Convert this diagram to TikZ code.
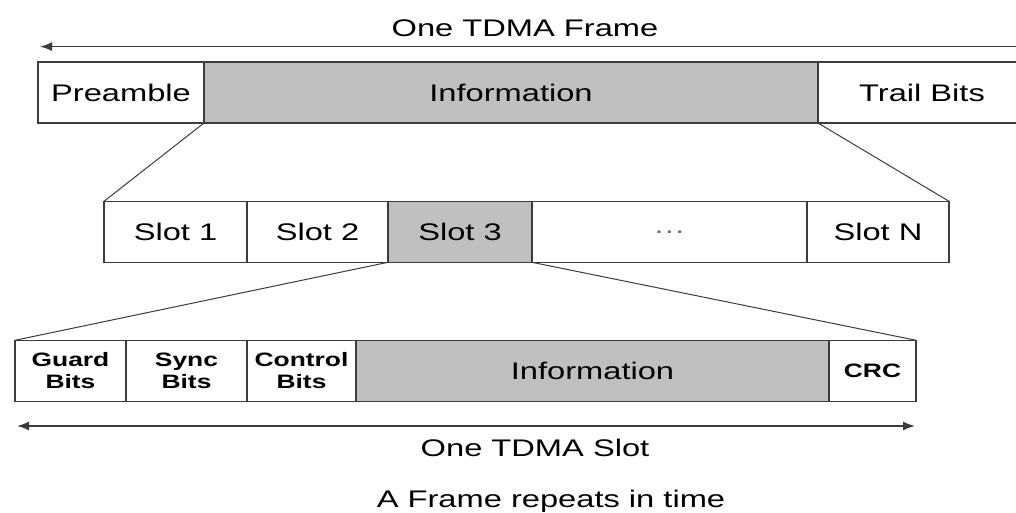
\documentclass[tikz,border=0pt]{standalone}
\usepackage{fontspec}
\setmainfont[FakeStretch=1.36]{Liberation Sans}
\usetikzlibrary{arrows.meta, positioning}
\definecolor{linegray}{RGB}{60,60,60}
\definecolor{infogray}{RGB}{192,192,192}
\definecolor{dotgray}{RGB}{110,110,110}
\tikzset{
  field/.style={
    rectangle, draw=linegray, line width=0.6pt, outer sep=0pt, inner sep=0pt,
    minimum height=30.5pt, text centered, font=\fontsize{12}{14}\selectfont
  },
  wht/.style={field, fill=white},
  gry/.style={field, fill=infogray},
  bitf/.style={wht, align=center, font=\bfseries\fontsize{9.7}{11}\selectfont},
  arr/.style={-{Latex[length=6pt,width=4.5pt]}, line width=0.7pt, draw=linegray},
  darr/.style={{Latex[length=6pt,width=4.5pt]}-{Latex[length=6pt,width=4.5pt]},
               line width=0.7pt, draw=linegray},
  zoomln/.style={line width=0.5pt, draw=linegray},
  lbl/.style={font=\fontsize{12}{14}\selectfont, anchor=base}
}

\begin{document}
\begin{tikzpicture}
  \useasboundingbox (0,0) rectangle (508pt,256.5pt);

  %% one frame
  \node[wht, minimum width=83pt, anchor=west] (pre) at (19pt,210.25pt) {Preamble};
  \node[gry, minimum width=307pt, right=0pt of pre]   (finfo) {Information};
  \node[wht, minimum width=104pt, right=0pt of finfo] (trail) {Trail Bits};

  \coordinate (fR) at (512pt,233.2pt);
  \coordinate (fL) at (20pt,233.2pt);
  \draw[arr] (fR) -- (fL);
  \node[lbl] (framelbl) at (262.5pt,238pt) {One TDMA Frame};

  %% slots
  \node[wht, minimum width=71.5pt, anchor=west] (s1) at (52pt,140.6pt) {Slot 1};
  \node[wht, minimum width=70.5pt, right=0pt of s1]  (s2) {Slot 2};
  \node[gry, minimum width=72pt,   right=0pt of s2]  (s3) {Slot 3};
  \node[wht, minimum width=137.5pt, right=0pt of s3, text=dotgray] (sdots) {\dots};
  \node[wht, minimum width=71pt,   right=0pt of sdots] (sN) {Slot N};

  \draw[zoomln] (finfo.south west) -- (s1.north west);
  \draw[zoomln] (finfo.south east) -- (sN.north east);

  %% one slot
  \node[bitf, minimum width=55.5pt, anchor=west] (guard) at (7.5pt,71.1pt) {Guard\\Bits};
  \node[bitf, minimum width=60.5pt, right=0pt of guard] (sync) {Sync\\Bits};
  \node[bitf, minimum width=54.5pt, right=0pt of sync]  (ctrl) {Control\\Bits};
  \node[gry,  minimum width=236.5pt, right=0pt of ctrl] (sinfo) {Information};
  \node[bitf, minimum width=43.5pt, right=0pt of sinfo] (crc) {CRC};

  \draw[zoomln] (s3.south west) -- (guard.north west);
  \draw[zoomln] (s3.south east) -- (crc.north east);

  \coordinate (sL) at (8.5pt,43.5pt);
  \coordinate (sR) at (457.5pt,43.5pt);
  \draw[darr] (sL) -- (sR);
  \node[lbl] (slotlbl) at (267.5pt,28pt) {One TDMA Slot};

  \node[lbl] (repeatlbl) at (275.5pt,2.5pt) {A Frame repeats in time};
\end{tikzpicture}
\end{document}
